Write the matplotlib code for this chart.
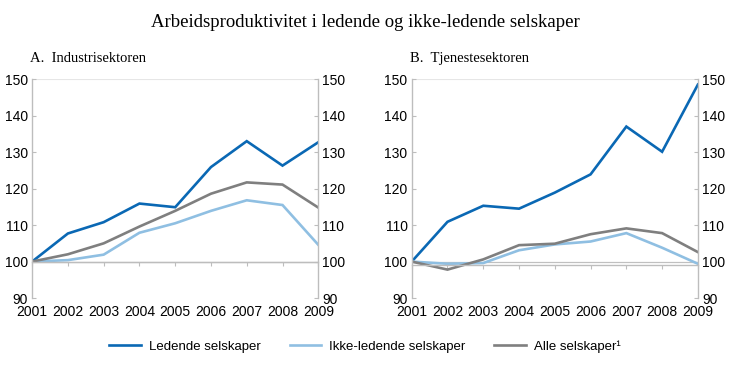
import matplotlib
matplotlib.use("Agg")
import matplotlib.pyplot as plt

years = [2001, 2002, 2003, 2004, 2005, 2006, 2007, 2008, 2009]
year_labels = [str(y) for y in years]

ind_ledende = [100, 107.7, 110.8, 115.9, 114.9, 125.9, 133.0, 126.3, 132.7]
ind_ikke = [100, 100.4, 101.9, 107.9, 110.5, 113.9, 116.8, 115.5, 104.6]
ind_alle = [100, 102.0, 105.0, 109.6, 113.9, 118.6, 121.7, 121.1, 114.8]

tj_ledende = [100, 110.9, 115.3, 114.5, 118.9, 123.9, 137.0, 130.1, 148.5]
tj_ikke = [100, 99.4, 99.6, 103.1, 104.7, 105.5, 107.8, 103.8, 99.4]
tj_alle = [100, 97.8, 100.6, 104.5, 104.9, 107.5, 109.1, 107.8, 102.6]

yticks = [90, 100, 110, 120, 130, 140, 150]
series_names = ["Ledende selskaper", "Ikke-ledende selskaper", "Alle selskaper\u00b9"]
colors = ["#0a68b4", "#8fbfe2", "#7f7f7f"]

fig = plt.figure(figsize=(7.3, 3.68), dpi=100)
sans = "Liberation Sans"
serif = "Liberation Serif"

def panel(rect, data, title, axis_at):
    ax = fig.add_axes(rect)
    lines = []
    for vals, c, n in zip(data, colors, series_names):
        l, = ax.plot(years, vals, color=c, lw=1.9, label=n, solid_joinstyle="miter")
        lines.append(l)
    ax.set_xlim(2001, 2009)
    ax.set_ylim(90, 150)
    ax.set_yticks(yticks)
    ax.axhline(100, color="#c0c0c0", lw=0.9, zorder=0)
    ax.axhline(150, color="#e6e6e6", lw=0.8, zorder=0)
    for s in ["left", "right"]:
        ax.spines[s].set_color("#bdbdbd")
        ax.spines[s].set_linewidth(1.0)
    ax.spines["top"].set_visible(False)
    ax.spines["bottom"].set_position(("data", axis_at))
    ax.spines["bottom"].set_color("#bdbdbd")
    ax.spines["bottom"].set_linewidth(1.0)
    ax.set_xticks(years)
    ax.tick_params(axis="x", direction="out", length=3, color="#bdbdbd", labelbottom=False)
    ax.tick_params(axis="y", direction="in", length=3, color="#bdbdbd",
                   left=True, right=True, labelleft=True, labelright=True,
                   labelsize=10, pad=3)
    for lab in ax.get_yticklabels():
        lab.set_fontfamily(sans)
    sec = ax.secondary_xaxis(0)
    sec.set_xticks(years)
    sec.set_xticklabels(year_labels, fontfamily=sans, fontsize=10)
    sec.tick_params(length=0, pad=5)
    sec.spines["bottom"].set_visible(False)
    fig.text(rect[0] - 0.003, 0.842, title, fontfamily=serif, fontsize=10.5, ha="left", va="center")
    return lines

lines = panel([0.044, 0.19, 0.392, 0.595], [ind_ledende, ind_ikke, ind_alle], "A.  Industrisektoren", 100)
panel([0.564, 0.19, 0.392, 0.595], [tj_ledende, tj_ikke, tj_alle], "B.  Tjenestesektoren", 99)

fig.text(0.5, 0.94, "Arbeidsproduktivitet i ledende og ikke-ledende selskaper",
         fontfamily=serif, fontsize=13.5, ha="center", va="center")

leg = fig.legend(lines, series_names, loc="center", bbox_to_anchor=(0.5, 0.058), ncol=3,
                 frameon=False, prop={"family": sans, "size": 9.5},
                 handlelength=2.4, columnspacing=2.2, handletextpad=0.6)

fig.savefig("out.png", dpi=100)
